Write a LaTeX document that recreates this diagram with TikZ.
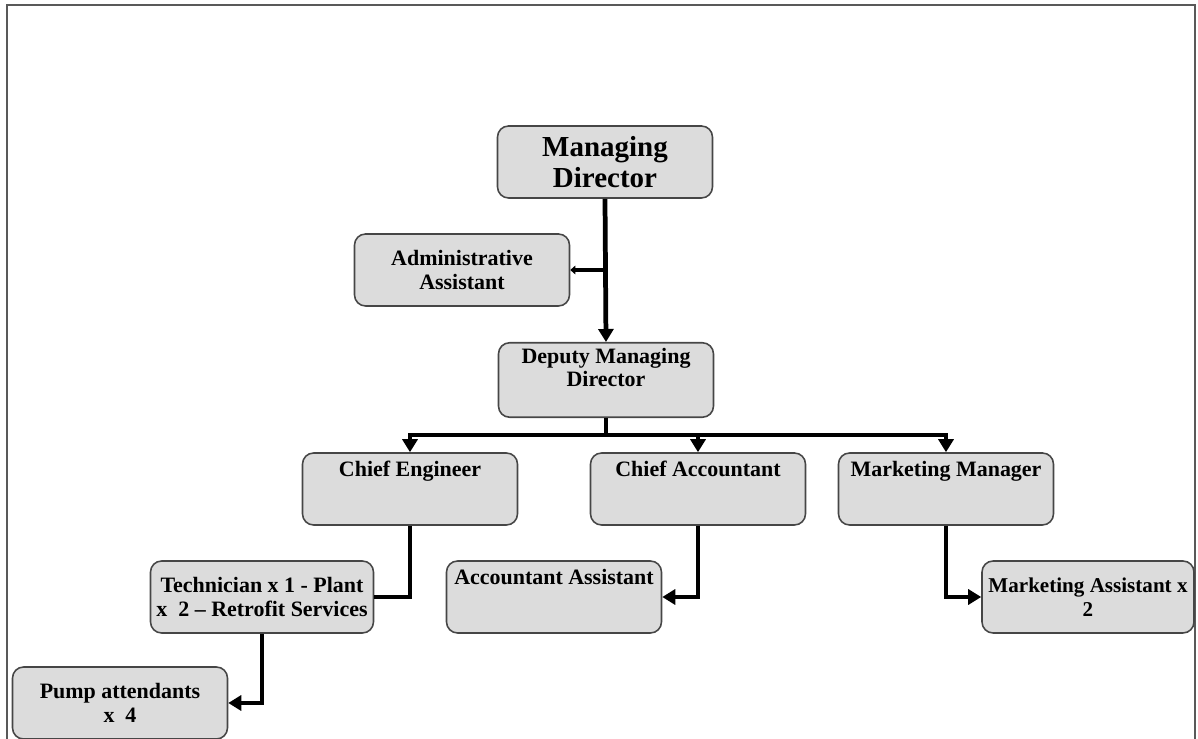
\documentclass[tikz,border=0pt]{standalone}
\usepackage{fontspec}
\setmainfont{Liberation Serif}
\usepackage{tikz}
\usetikzlibrary{arrows.meta}

\definecolor{boxgray}{RGB}{220,220,220}
\definecolor{edgegray}{RGB}{70,70,70}

\tikzset{
  unit/.style={rectangle,rounded corners=0.22cm,draw=edgegray,line width=0.9pt,fill=boxgray,
    minimum width=4.3cm,minimum height=1.44cm,align=center,inner sep=0.1cm,
    font=\bfseries\fontsize{12.5}{13.5}\selectfont},
  topline/.style={text height=0.3cm,text depth=0.8cm},
  link/.style={line width=2.7pt,draw=black},
  tip/.style={-{Triangle[width=0.3cm,length=0.26cm]}}
}

\begin{document}
\begin{tikzpicture}[x=0.02cm,y=-0.02cm]
\useasboundingbox (0,0) rectangle (1198,739);
\draw[gray!70!black,line width=1pt] (7,739) -- (7,5) -- (1195,5) -- (1195,739);

\node (MD)[unit,font=\bfseries\fontsize{16.5}{17.5}\selectfont] at (605,162) {Managing\\Director};
\node (AA)[unit] at (462,270) {Administrative\\Assistant};
\node (DMD)[unit] at (606,380) {Deputy Managing\\Director\\[1pt]};

\node (CE)[unit,topline] at (410,489) {Chief Engineer};
\node (CA)[unit,topline] at (698,489) {Chief Accountant};
\node (MM)[unit,topline] at (946,489) {Marketing Manager};

\node (TE)[unit,minimum width=4.46cm] at (262,597) {Technician x 1 - Plant\\x\ \ 2 -- Retrofit Services};
\node (AC)[unit,topline] at (554,597) {Accountant Assistant};
\node (MA)[unit,minimum width=4.24cm,inner xsep=0.05cm,font=\bfseries\fontsize{12}{14}\selectfont] at (1088,597) {Marketing Assistant x\\2};
\node (PA)[unit] at (120,703) {Pump attendants\\x\ \ 4};

\draw[link,tip] (MD.south) -- (DMD.north);
\coordinate (AAj) at (MD.south |- AA.east);
\draw[link,-{Triangle[width=0.17cm,length=0.1cm]}] (AAj) -- (AA.east);

\draw[link,tip] (DMD.south) -- ++(0,17) -| (CE.north);
\draw[link,tip] (DMD.south) -- ++(0,17) -| (CA.north);
\draw[link,tip] (DMD.south) -- ++(0,17) -| (MM.north);

\draw[link] (CE.south) |- (TE.east);
\draw[link,tip] (CA.south) |- (AC.east);
\draw[link,tip] (MM.south) |- (MA.west);
\draw[link,tip] (TE.south) |- (PA.east);
\end{tikzpicture}
\end{document}
